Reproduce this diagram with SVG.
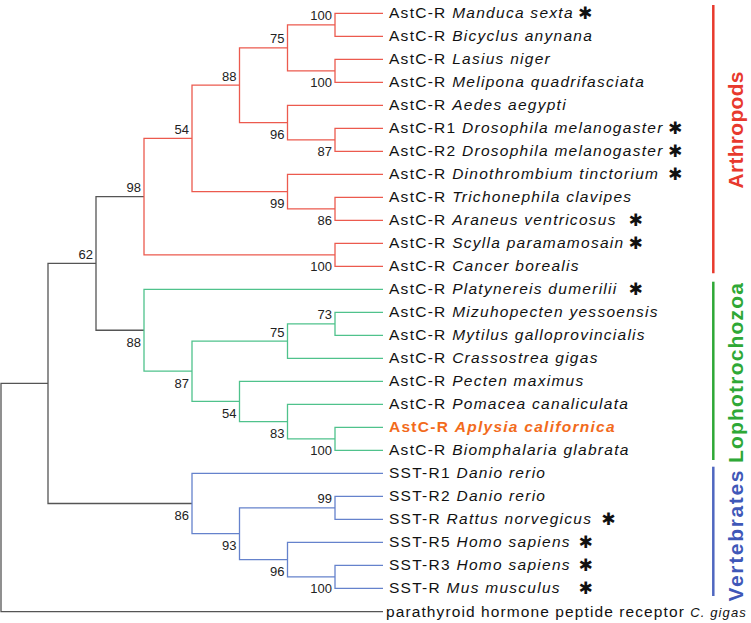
<svg xmlns="http://www.w3.org/2000/svg" width="751" height="623" viewBox="0 0 751 623">
<style>
.lf{font-family:"Liberation Sans",Arial,sans-serif;font-size:15.5px;letter-spacing:1.27px;fill:#111}
.it{font-style:italic}
.bs{font-family:"Liberation Sans",Arial,sans-serif;font-size:13px;fill:#222;text-anchor:end}
.ast{font-family:"DejaVu Sans",sans-serif;font-size:17px;fill:#111;text-anchor:middle;dominant-baseline:central}
.e{fill:none;stroke-width:1.3}
.k{stroke:#555}
.r{stroke:#ec5a4e}
.g{stroke:#4fc28c}
.b{stroke:#6582cc}
.bar{fill:none;stroke-width:2.5}
.cl{font-family:"Liberation Sans",Arial,sans-serif;font-size:21px;font-weight:bold;text-anchor:middle}
</style>
<g id="connectors">
<!-- black backbone -->
<path class="e k" d="M48,383.45 H1 V611.7 H383"/>
<path class="e k" d="M96,263.4 H48 V503.5 H192"/>
<path class="e k" d="M144,196.6 H96 V330.25 H144"/>
<!-- arthropods -->
<path class="e r" d="M192,138.4 H144 V254.8 H335"/>
<path class="e r" d="M239.5,85.2 H192 V191.55 H287.5"/>
<path class="e r" d="M287.5,47.8 H239.5 V122.55 H287.5"/>
<path class="e r" d="M335,24.8 H287.5 V70.8 H335"/>
<path class="e r" d="M383,13.3 H335 V36.3 H383"/>
<path class="e r" d="M383,59.3 H335 V82.3 H383"/>
<path class="e r" d="M383,105.3 H287.5 V139.8 H335"/>
<path class="e r" d="M383,128.3 H335 V151.3 H383"/>
<path class="e r" d="M383,174.3 H287.5 V208.8 H335"/>
<path class="e r" d="M383,197.3 H335 V220.3 H383"/>
<path class="e r" d="M383,243.3 H335 V266.3 H383"/>
<!-- lophotrochozoa -->
<path class="e g" d="M383,289.3 H144 V371.2 H192"/>
<path class="e g" d="M287.5,341.05 H192 V401.4 H239.5"/>
<path class="e g" d="M335,323.8 H287.5 V358.3 H383"/>
<path class="e g" d="M383,312.3 H335 V335.3 H383"/>
<path class="e g" d="M383,381.3 H239.5 V421.55 H287.5"/>
<path class="e g" d="M383,404.3 H287.5 V438.8 H335"/>
<path class="e g" d="M383,427.3 H335 V450.3 H383"/>
<!-- vertebrates -->
<path class="e b" d="M383,473.3 H192 V533.7 H239.5"/>
<path class="e b" d="M335,507.8 H239.5 V559.55 H287.5"/>
<path class="e b" d="M383,496.3 H335 V519.3 H383"/>
<path class="e b" d="M383,542.3 H287.5 V576.8 H335"/>
<path class="e b" d="M383,565.3 H335 V588.3 H383"/>
</g>
<g id="support">
<g id="n_manduca_bicyclus"><text class="bs" x="332" y="20.3">100</text></g>
<g id="n_lasius_melipona"><text class="bs" x="332" y="87.3">100</text></g>
<g id="n75a"><text class="bs" x="284.5" y="43.3">75</text></g>
<g id="n96a"><text class="bs" x="284.5" y="139.05">96</text></g>
<g id="n87a"><text class="bs" x="332" y="156.3">87</text></g>
<g id="n88a"><text class="bs" x="236.5" y="80.7">88</text></g>
<g id="n54a"><text class="bs" x="189" y="133.9">54</text></g>
<g id="n86a"><text class="bs" x="332" y="225.3">86</text></g>
<g id="n99a"><text class="bs" x="284.5" y="208.05">99</text></g>
<g id="n100crab"><text class="bs" x="332" y="271.3">100</text></g>
<g id="n98"><text class="bs" x="141" y="192.1">98</text></g>
<g id="n62"><text class="bs" x="93" y="258.9">62</text></g>
<g id="n73"><text class="bs" x="332" y="319.3">73</text></g>
<g id="n75l"><text class="bs" x="284.5" y="336.55">75</text></g>
<g id="n88l"><text class="bs" x="141" y="346.75">88</text></g>
<g id="n87l"><text class="bs" x="189" y="387.7">87</text></g>
<g id="n54l"><text class="bs" x="236.5" y="417.9">54</text></g>
<g id="n83"><text class="bs" x="284.5" y="438.05">83</text></g>
<g id="n100snail"><text class="bs" x="332" y="455.3">100</text></g>
<g id="n86v"><text class="bs" x="189" y="520">86</text></g>
<g id="n99v"><text class="bs" x="332" y="503.3">99</text></g>
<g id="n93"><text class="bs" x="236.5" y="550.2">93</text></g>
<g id="n96v"><text class="bs" x="284.5" y="576.05">96</text></g>
<g id="n100v"><text class="bs" x="332" y="593.3">100</text></g>
</g>
<g id="leaves">
<g id="l_manduca"><text class="lf" x="389" y="18.3">AstC-R <tspan class="it">Manduca sexta</tspan></text><text class="ast" x="585" y="13.3">✱</text></g>
<g id="l_bicyclus"><text class="lf" x="389" y="41.3">AstC-R <tspan class="it">Bicyclus anynana</tspan></text></g>
<g id="l_lasius"><text class="lf" x="389" y="64.3">AstC-R <tspan class="it">Lasius niger</tspan></text></g>
<g id="l_melipona"><text class="lf" x="389" y="87.3">AstC-R <tspan class="it">Melipona quadrifasciata</tspan></text></g>
<g id="l_aedes"><text class="lf" x="389" y="110.3">AstC-R <tspan class="it">Aedes aegypti</tspan></text></g>
<g id="l_dros1"><text class="lf" x="389" y="133.3">AstC-R1 <tspan class="it">Drosophila melanogaster</tspan></text><text class="ast" x="675" y="128.3">✱</text></g>
<g id="l_dros2"><text class="lf" x="389" y="156.3">AstC-R2 <tspan class="it">Drosophila melanogaster</tspan></text><text class="ast" x="675" y="151.3">✱</text></g>
<g id="l_dino"><text class="lf" x="389" y="179.3">AstC-R <tspan class="it">Dinothrombium tinctorium</tspan></text><text class="ast" x="675" y="174.3">✱</text></g>
<g id="l_tricho"><text class="lf" x="389" y="202.3">AstC-R <tspan class="it">Trichonephila clavipes</tspan></text></g>
<g id="l_araneus"><text class="lf" x="389" y="225.3">AstC-R <tspan class="it">Araneus ventricosus</tspan></text><text class="ast" x="635.7" y="220.3">✱</text></g>
<g id="l_scylla"><text class="lf" x="389" y="248.3">AstC-R <tspan class="it">Scylla paramamosain</tspan></text><text class="ast" x="635.7" y="243.3">✱</text></g>
<g id="l_cancer"><text class="lf" x="389" y="271.3">AstC-R <tspan class="it">Cancer borealis</tspan></text></g>
<g id="l_platy"><text class="lf" x="389" y="294.3">AstC-R <tspan class="it">Platynereis dumerilii</tspan></text><text class="ast" x="635.7" y="289.3">✱</text></g>
<g id="l_mizu"><text class="lf" x="389" y="317.3">AstC-R <tspan class="it">Mizuhopecten yessoensis</tspan></text></g>
<g id="l_mytilus"><text class="lf" x="389" y="340.3">AstC-R <tspan class="it">Mytilus galloprovincialis</tspan></text></g>
<g id="l_crass"><text class="lf" x="389" y="363.3">AstC-R <tspan class="it">Crassostrea gigas</tspan></text></g>
<g id="l_pecten"><text class="lf" x="389" y="386.3">AstC-R <tspan class="it">Pecten maximus</tspan></text></g>
<g id="l_pomacea"><text class="lf" x="389" y="409.3">AstC-R <tspan class="it">Pomacea canaliculata</tspan></text></g>
<g id="l_aplysia"><text class="lf" x="389" y="432.3" style="fill:#f26b1c;font-weight:bold">AstC-R <tspan class="it">Aplysia californica</tspan></text></g>
<g id="l_biomph"><text class="lf" x="389" y="455.3">AstC-R <tspan class="it">Biomphalaria glabrata</tspan></text></g>
<g id="l_sst1"><text class="lf" x="389" y="478.3">SST-R1 <tspan class="it">Danio rerio</tspan></text></g>
<g id="l_sst2"><text class="lf" x="389" y="501.3">SST-R2 <tspan class="it">Danio rerio</tspan></text></g>
<g id="l_rattus"><text class="lf" x="389" y="524.3">SST-R <tspan class="it">Rattus norvegicus</tspan></text><text class="ast" x="608.3" y="519.3">✱</text></g>
<g id="l_sst5"><text class="lf" x="389" y="547.3">SST-R5 <tspan class="it">Homo sapiens</tspan></text><text class="ast" x="585.7" y="542.3">✱</text></g>
<g id="l_sst3"><text class="lf" x="389" y="570.3">SST-R3 <tspan class="it">Homo sapiens</tspan></text><text class="ast" x="585.7" y="565.3">✱</text></g>
<g id="l_mus"><text class="lf" x="389" y="593.3">SST-R <tspan class="it">Mus musculus</tspan></text><text class="ast" x="585.7" y="588.3">✱</text></g>
<g id="l_pth"><text class="lf" x="386" y="616.7" style="letter-spacing:1.1px">parathyroid hormone peptide receptor <tspan class="it" style="font-size:13px">C. gigas</tspan></text></g>
</g>
<g id="clades">
<g id="c_arthropods"><path class="bar" stroke="#e8392d" d="M713.3,5 V273.3"/><text class="cl" fill="#e8392d" transform="translate(743,130) rotate(-90)" textLength="117" lengthAdjust="spacing">Arthropods</text></g>
<g id="c_lopho"><path class="bar" stroke="#2ea836" d="M713.3,281.7 V460"/><text class="cl" fill="#2ea836" transform="translate(743,373) rotate(-90)" textLength="180" lengthAdjust="spacing">Lophotrochozoa</text></g>
<g id="c_vert"><path class="bar" stroke="#4f67c0" d="M713.3,466.7 V596"/><text class="cl" fill="#3f58b8" transform="translate(743,536) rotate(-90)" textLength="131" lengthAdjust="spacing">Vertebrates</text></g>
</g>
</svg>
